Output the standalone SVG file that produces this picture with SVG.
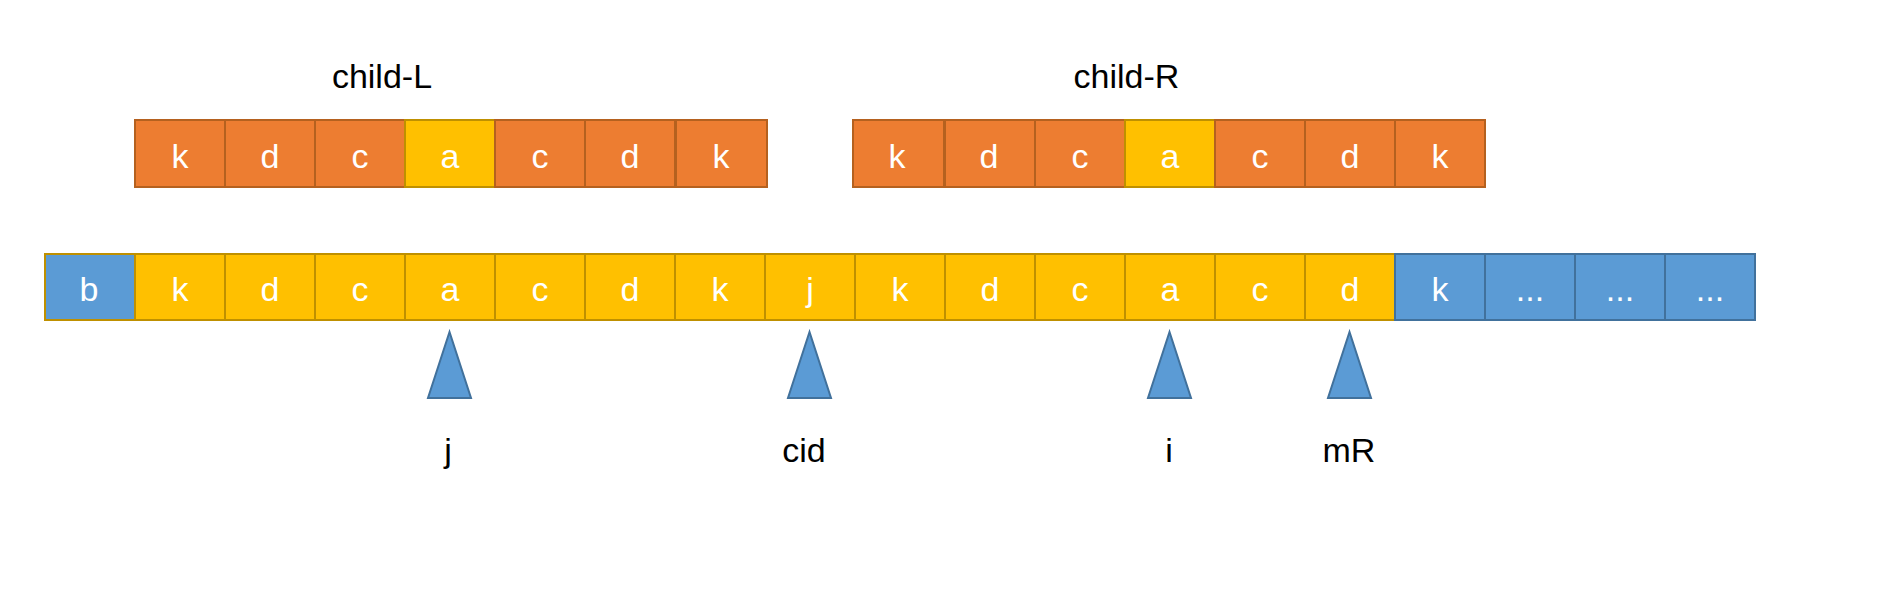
<svg xmlns="http://www.w3.org/2000/svg" width="1882" height="606" viewBox="0 0 1882 606">
<style>
.o{fill:#ED7D31;stroke:#B5611F;stroke-width:2}
.y{fill:#FFC000;stroke:#BF9000;stroke-width:2}
.b{fill:#5B9BD5;stroke:#41719C;stroke-width:2}
.t{font-family:"Liberation Sans",Arial,sans-serif;font-size:34px;fill:#FFFFFF;text-anchor:middle}
.l{font-family:"Liberation Sans",Arial,sans-serif;font-size:34px;fill:#000000;text-anchor:middle}
.tri{fill:#5B9BD5;stroke:#41719C;stroke-width:2;stroke-linejoin:miter}
</style>
<rect width="1882" height="606" fill="#FFFFFF"/>
<g id="label-childL"><text class="l" x="382" y="88">child-L</text></g>
<g id="label-childR"><text class="l" x="1126.5" y="88">child-R</text></g>
<g id="childL">
<rect class="o" x="135" y="120" width="90" height="67"/><text class="t" x="180" y="168">k</text>
<rect class="o" x="225" y="120" width="90" height="67"/><text class="t" x="270" y="168">d</text>
<rect class="o" x="315" y="120" width="90" height="67"/><text class="t" x="360" y="168">c</text>
<rect class="y" x="405" y="120" width="90" height="67"/><text class="t" x="450" y="168">a</text>
<rect class="o" x="495" y="120" width="90" height="67"/><text class="t" x="540" y="168">c</text>
<rect class="o" x="585" y="120" width="90" height="67"/><text class="t" x="630" y="168">d</text>
<rect class="o" x="676" y="120" width="91" height="67"/><text class="t" x="721" y="168">k</text>
</g>
<g id="childR">
<rect class="o" x="853" y="120" width="91" height="67"/><text class="t" x="897" y="168">k</text>
<rect class="o" x="945" y="120" width="90" height="67"/><text class="t" x="989" y="168">d</text>
<rect class="o" x="1035" y="120" width="90" height="67"/><text class="t" x="1080" y="168">c</text>
<rect class="y" x="1125" y="120" width="90" height="67"/><text class="t" x="1170" y="168">a</text>
<rect class="o" x="1215" y="120" width="90" height="67"/><text class="t" x="1260" y="168">c</text>
<rect class="o" x="1305" y="120" width="90" height="67"/><text class="t" x="1350" y="168">d</text>
<rect class="o" x="1395" y="120" width="90" height="67"/><text class="t" x="1440" y="168">k</text>
</g>
<g id="main-row">
<rect class="b" x="45" y="254" width="90" height="66" style="stroke:#BF9000"/><text class="t" x="89" y="301">b</text>
<rect class="y" x="135" y="254" width="90" height="66"/><text class="t" x="180" y="301">k</text>
<rect class="y" x="225" y="254" width="90" height="66"/><text class="t" x="270" y="301">d</text>
<rect class="y" x="315" y="254" width="90" height="66"/><text class="t" x="360" y="301">c</text>
<rect class="y" x="405" y="254" width="90" height="66"/><text class="t" x="450" y="301">a</text>
<rect class="y" x="495" y="254" width="90" height="66"/><text class="t" x="540" y="301">c</text>
<rect class="y" x="585" y="254" width="90" height="66"/><text class="t" x="630" y="301">d</text>
<rect class="y" x="675" y="254" width="90" height="66"/><text class="t" x="720" y="301">k</text>
<rect class="y" x="765" y="254" width="90" height="66"/><text class="t" x="810" y="301">j</text>
<rect class="y" x="855" y="254" width="90" height="66"/><text class="t" x="900" y="301">k</text>
<rect class="y" x="945" y="254" width="90" height="66"/><text class="t" x="990" y="301">d</text>
<rect class="y" x="1035" y="254" width="90" height="66"/><text class="t" x="1080" y="301">c</text>
<rect class="y" x="1125" y="254" width="90" height="66"/><text class="t" x="1170" y="301">a</text>
<rect class="y" x="1215" y="254" width="90" height="66"/><text class="t" x="1260" y="301">c</text>
<rect class="y" x="1305" y="254" width="90" height="66"/><text class="t" x="1350" y="301">d</text>
<rect class="b" x="1395" y="254" width="90" height="66"/><text class="t" x="1440" y="301">k</text>
<rect class="b" x="1485" y="254" width="90" height="66"/><text class="t" x="1530" y="301">...</text>
<rect class="b" x="1575" y="254" width="90" height="66"/><text class="t" x="1620" y="301">...</text>
<rect class="b" x="1665" y="254" width="90" height="66"/><text class="t" x="1710" y="301">...</text>
</g>
<g id="ptr-j"><polygon class="tri" points="449.5,332 428,398 471,398"/><text class="l" x="448" y="462">j</text></g>
<g id="ptr-cid"><polygon class="tri" points="809.5,332 788,398 831,398"/><text class="l" x="804" y="462">cid</text></g>
<g id="ptr-i"><polygon class="tri" points="1169.5,332 1148,398 1191,398"/><text class="l" x="1169" y="462">i</text></g>
<g id="ptr-mR"><polygon class="tri" points="1349.5,332 1328,398 1371,398"/><text class="l" x="1349" y="462">mR</text></g>
<g id="connectors"></g>
</svg>
